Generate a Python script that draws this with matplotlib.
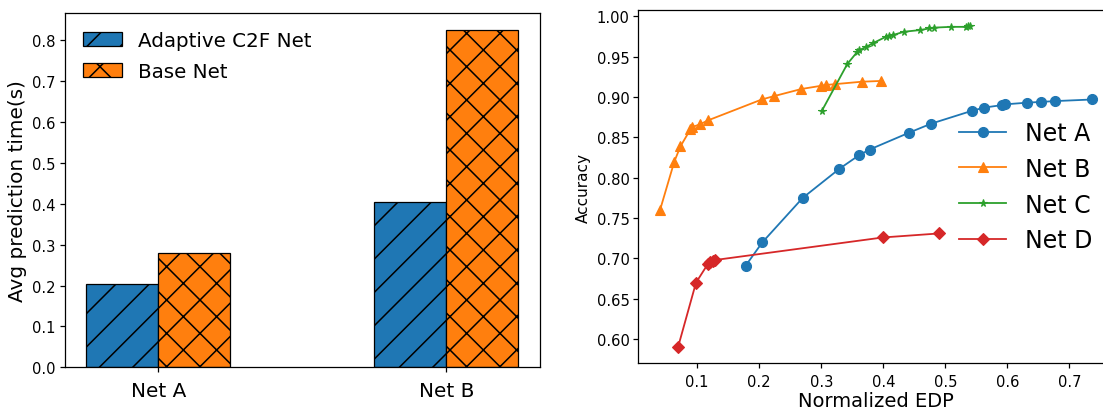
import numpy as np
import matplotlib
matplotlib.use('Agg')
import matplotlib.pyplot as plt

plt.rcParams['hatch.linewidth'] = 0.55
plt.rcParams['axes.linewidth'] = 0.45
plt.rcParams['xtick.major.width'] = 0.45
plt.rcParams['ytick.major.width'] = 0.45
plt.rcParams['xtick.major.size'] = 1.8
plt.rcParams['ytick.major.size'] = 1.8
plt.rcParams['xtick.major.pad'] = 1.6
plt.rcParams['ytick.major.pad'] = 1.4

# prediction time per network
nets = ['Net A', 'Net B']
c2f_time = [0.204, 0.404]
base_time = [0.279, 0.825]

# accuracy vs normalized EDP
a_edp = [0.178, 0.205, 0.270, 0.329, 0.361, 0.378, 0.442, 0.477, 0.543, 0.563, 0.591, 0.597, 0.631, 0.654, 0.677, 0.737]
a_acc = [0.691, 0.720, 0.775, 0.811, 0.828, 0.835, 0.856, 0.867, 0.883, 0.887, 0.890, 0.891, 0.893, 0.894, 0.895, 0.897]
b_edp = [0.040, 0.063, 0.073, 0.089, 0.092, 0.104, 0.117, 0.204, 0.223, 0.268, 0.300, 0.308, 0.322, 0.365, 0.397]
b_acc = [0.760, 0.820, 0.839, 0.860, 0.863, 0.866, 0.871, 0.897, 0.901, 0.910, 0.914, 0.915, 0.916, 0.919, 0.920]
c_edp = [0.301, 0.342, 0.358, 0.361, 0.372, 0.384, 0.405, 0.409, 0.416, 0.434, 0.459, 0.474, 0.481, 0.509, 0.533, 0.537, 0.540]
c_acc = [0.883, 0.941, 0.956, 0.958, 0.962, 0.967, 0.975, 0.976, 0.977, 0.981, 0.983, 0.985, 0.986, 0.987, 0.987, 0.988, 0.988]
d_edp = [0.069, 0.098, 0.117, 0.121, 0.125, 0.128, 0.399, 0.490]
d_acc = [0.590, 0.670, 0.693, 0.695, 0.697, 0.698, 0.726, 0.731]

fig = plt.figure(figsize=(11.03/2, 4.10/2), dpi=200)

ax1 = fig.add_axes([0.0586, 0.1017, 0.4310, 0.8634])
x = np.arange(len(nets))
w = 0.25
ax1.bar(x - w/2, c2f_time, w, color='#1f77b4', edgecolor='black', linewidth=0.45, hatch='//', label='Adaptive C2F Net')
ax1.bar(x + w/2, base_time, w, color='#ff7f0e', edgecolor='black', linewidth=0.45, hatch='xx', label='Base Net')
ax1.set_xticks(x)
ax1.set_xticklabels(nets, fontsize=7.2)
ax1.tick_params(axis='x', pad=3.2)
ax1.tick_params(axis='y', labelsize=5.3)
ax1.set_ylabel('Avg prediction time(s)', fontsize=7.2, labelpad=2)
ax1.legend(loc='upper left', fontsize=7.15, frameon=False, labelspacing=0.6)

ax2 = fig.add_axes([0.5788, 0.1115, 0.4311, 0.8617])
ax2.plot(a_edp, a_acc, marker='o', color='#1f77b4', lw=0.65, ms=3.6, mew=0.4, label='Net A')
ax2.plot(b_edp, b_acc, marker='^', color='#ff7f0e', lw=0.65, ms=3.6, mew=0.4, label='Net B')
ax2.plot(c_edp, c_acc, marker='*', color='#2ca02c', lw=0.65, ms=2.8, mew=0.4, label='Net C')
ax2.plot(d_edp, d_acc, marker='D', color='#d62728', lw=0.65, ms=3.2, mew=0.4, label='Net D')
ax2.set_xticks([0.1, 0.2, 0.3, 0.4, 0.5, 0.6, 0.7])
ax2.tick_params(labelsize=5.3)
ax2.tick_params(axis='x', pad=2.2)
ax2.set_xlabel('Normalized EDP', fontsize=7, labelpad=0.4)
ax2.set_ylabel('Accuracy', fontsize=5.5, labelpad=2)
ax2.legend(loc='center right', fontsize=8.5, frameon=False, labelspacing=0.5)

fig.savefig('out.png', dpi=200)
